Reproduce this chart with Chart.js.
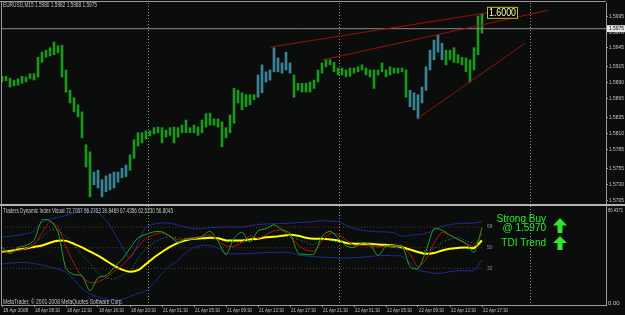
<!DOCTYPE html>
<html>
<head>
<meta charset="utf-8">
<script src="https://cdn.jsdelivr.net/npm/chart.js@4.4.1/dist/chart.umd.min.js"></script>
<style>
  html, body { margin: 0; padding: 0; background: #0a0d0b; }
  #wrap { position: relative; width: 625px; height: 315px; overflow: hidden; background: #0a0d0b; }
  #priceChart { position: absolute; left: 0; top: 0; }
  #tdiChart { position: absolute; left: 0; top: 206px; }
</style>
</head>
<body>
<div id="wrap">
  <canvas id="priceChart" width="625" height="206"></canvas>
  <canvas id="tdiChart" width="625" height="109"></canvas>
</div>
<script>
// EURUSD M15, one sample per 30 minutes (two M15 bars), 18 Apr 04:30 .. 22 Apr 17:45
let priceHigh = [
  1.5900, 1.5900, 1.5897, 1.5894, 1.5896, 1.5900, 1.5899, 1.5904, 1.5904, 1.5930,
  1.5938, 1.5941, 1.5945, 1.5954, 1.5948, 1.5949, 1.5910, 1.5878, 1.5866, 1.5855,
  1.5844, 1.5792, 1.5781, 1.5749, 1.5752, 1.5737, 1.5743, 1.5746, 1.5749, 1.5749,
  1.5755, 1.5760, 1.5776, 1.5800, 1.5811, 1.5811, 1.5814, 1.5814, 1.5819, 1.5820,
  1.5819, 1.5815, 1.5819, 1.5820, 1.5819, 1.5823, 1.5831, 1.5819, 1.5823, 1.5820,
  1.5831, 1.5841, 1.5842, 1.5833, 1.5833, 1.5828, 1.5819, 1.5839, 1.5881, 1.5878,
  1.5874, 1.5871, 1.5871, 1.5871, 1.5902, 1.5918, 1.5907, 1.5910, 1.5945, 1.5929,
  1.5921, 1.5938, 1.5921, 1.5902, 1.5889, 1.5889, 1.5889, 1.5891, 1.5894, 1.5910,
  1.5921, 1.5926, 1.5926, 1.5922, 1.5913, 1.5913, 1.5910, 1.5913, 1.5913, 1.5915,
  1.5918, 1.5913, 1.5910, 1.5910, 1.5910, 1.5921, 1.5910, 1.5915, 1.5913, 1.5913,
  1.5913, 1.5910, 1.5878, 1.5874, 1.5871, 1.5883, 1.5915, 1.5941, 1.5957, 1.5965,
  1.5952, 1.5941, 1.5941, 1.5945, 1.5934, 1.5930, 1.5929, 1.5926, 1.5945, 1.5995,
  1.5999
];
let priceLow = [
  1.5891, 1.5893, 1.5883, 1.5885, 1.5886, 1.5889, 1.5891, 1.5896, 1.5894, 1.5899,
  1.5922, 1.5930, 1.5932, 1.5934, 1.5937, 1.5899, 1.5875, 1.5858, 1.5844, 1.5836,
  1.5803, 1.5757, 1.5710, 1.5729, 1.5724, 1.5710, 1.5718, 1.5721, 1.5724, 1.5733,
  1.5740, 1.5742, 1.5752, 1.5771, 1.5790, 1.5795, 1.5801, 1.5806, 1.5809, 1.5811,
  1.5795, 1.5804, 1.5807, 1.5795, 1.5804, 1.5811, 1.5811, 1.5811, 1.5811, 1.5807,
  1.5811, 1.5820, 1.5823, 1.5823, 1.5820, 1.5789, 1.5803, 1.5811, 1.5826, 1.5858,
  1.5847, 1.5852, 1.5855, 1.5863, 1.5867, 1.5874, 1.5891, 1.5894, 1.5907, 1.5907,
  1.5905, 1.5910, 1.5905, 1.5867, 1.5878, 1.5875, 1.5875, 1.5875, 1.5881, 1.5891,
  1.5905, 1.5915, 1.5918, 1.5907, 1.5902, 1.5902, 1.5899, 1.5900, 1.5905, 1.5907,
  1.5910, 1.5902, 1.5899, 1.5881, 1.5902, 1.5907, 1.5899, 1.5902, 1.5905, 1.5905,
  1.5907, 1.5867, 1.5852, 1.5847, 1.5833, 1.5858, 1.5878, 1.5910, 1.5926, 1.5938,
  1.5926, 1.5918, 1.5926, 1.5922, 1.5921, 1.5918, 1.5907, 1.5891, 1.5910, 1.5934,
  1.5968
];
let lastBar = [1.5980, 1.5982, 1.5968, 1.5975];   // O H L C of the current bar
let lastPrice = 1.5975;
let priceTicks = [1.5995, 1.5970, 1.5945, 1.5915, 1.5890, 1.5865, 1.5835, 1.5810, 1.5785, 1.5755, 1.5730, 1.5705];

// trend lines, [bar, price] anchors
let trendTop = [[134.0, 1.5946], [242.5, 1.6000]];
let trendMid = [[160.5, 1.5926], [273.0, 1.6004]];
let trendLow = [[207.5, 1.5833], [261.5, 1.5952]];
let targetPrice = 1.6000;

let daySeparators = [73.0, 168.5, 264.0];
let timeLabels = ['18 Apr 2008', '18 Apr 08:30', '18 Apr 12:30', '18 Apr 16:30', '18 Apr 20:30',
  '21 Apr 01:30', '21 Apr 05:30', '21 Apr 09:30', '21 Apr 13:30', '21 Apr 17:30', '21 Apr 21:30',
  '22 Apr 01:30', '22 Apr 05:30', '22 Apr 09:30', '22 Apr 13:30', '22 Apr 17:30'];

// Traders Dynamic Index, one sample per hour
let tdiUpper = [59.5, 60.0, 60.9, 62.2, 64.4, 72.3, 75.0, 76.3, 78.1, 80.3, 82.0, 82.5, 80.7, 74.1, 63.5, 51.2,
  41.0, 53.8, 67.9, 70.6, 71.7, 71.4, 69.7, 67.9, 66.6, 66.6, 67.5, 67.9, 68.2, 68.2, 68.2, 69.2, 70.3, 70.7,
  71.0, 71.2, 71.4, 71.9, 72.3, 72.8, 73.6, 73.2, 72.8, 69.7, 66.6, 65.3, 64.4, 63.9, 63.8, 63.1, 60.0, 60.9,
  61.5, 62.6, 65.3, 68.8, 70.1, 71.2, 71.4, 71.7, 72.7];
let tdiLower = [35.9, 36.6, 37.0, 37.0, 36.2, 34.8, 33.1, 31.3, 28.7, 22.1, 14.1, 9.7, 7.1, 5.3, 4.0, 4.9,
  7.5, 10.1, 12.3, 19.4, 27.3, 34.4, 38.8, 45.9, 50.3, 52.0, 52.0, 49.8, 45.0, 44.7, 44.7, 45.0, 45.4, 45.7,
  45.9, 46.1, 45.9, 43.7, 42.8, 42.3, 41.7, 41.5, 41.0, 41.0, 41.3, 41.7, 42.3, 43.0, 43.2, 43.0, 42.6, 37.0,
  30.4, 29.1, 27.8, 27.8, 29.1, 30.0, 30.0, 30.0, 39.8];
let tdiBase = [46.3, 47.2, 48.5, 49.4, 50.7, 52.0, 54.4, 56.0, 56.0, 53.4, 50.3, 46.7, 43.2, 38.8, 34.4, 30.9,
  29.1, 30.4, 35.7, 41.5, 46.3, 50.7, 54.2, 56.4, 57.8, 58.2, 58.7, 58.2, 56.4, 56.4, 56.4, 57.3, 57.9, 59.1,
  59.5, 60.4, 61.3, 60.4, 58.7, 57.8, 57.8, 57.3, 56.4, 54.2, 53.5, 53.5, 53.5, 52.9, 52.5, 51.9, 50.5, 48.5,
  46.3, 44.7, 45.4, 47.6, 49.1, 49.8, 50.3, 49.8, 56.3];
let tdiSignal = [46.1, 46.1, 47.6, 49.4, 52.5, 63.1, 72.6, 67.9, 50.7, 36.2, 24.7, 19.4, 20.3, 23.8, 29.5, 34.4,
  41.9, 50.7, 58.2, 61.3, 63.1, 60.0, 56.9, 57.3, 57.9, 59.5, 61.0, 56.4, 51.6, 51.2, 54.7, 60.4, 58.2, 61.3,
  64.8, 65.3, 60.0, 52.5, 48.1, 47.2, 55.6, 62.6, 61.3, 56.9, 52.0, 52.0, 51.6, 50.7, 51.4, 51.9, 50.5, 44.5,
  33.1, 40.1, 53.8, 63.5, 60.9, 57.3, 53.8, 51.2, 62.5];
let tdiPrice = [50.3, 45.0, 50.3, 52.0, 56.4, 74.1, 73.6, 63.9, 31.8, 26.5, 25.6, 12.3, 23.8, 25.6, 32.6, 39.7,
  49.4, 58.7, 61.7, 63.9, 63.9, 60.0, 54.7, 57.9, 58.7, 60.0, 64.4, 55.6, 44.1, 58.2, 63.5, 54.9, 64.8, 66.6,
  70.1, 65.7, 62.6, 45.4, 44.1, 44.5, 60.0, 64.4, 58.7, 51.6, 50.3, 54.2, 52.9, 43.2, 51.2, 50.3, 52.0, 33.5,
  31.8, 47.2, 66.6, 65.3, 60.9, 57.3, 53.8, 45.9, 67.4];
let tdiSlow = [47.6, 47.6, 48.1, 50.3, 53.8, 59.1, 65.3, 65.3, 59.5, 52.0, 43.7, 36.2, 28.2, 23.8, 22.7, 25.6,
  29.5, 40.6, 49.0, 54.7, 58.2, 59.4, 58.7, 57.9, 58.7, 59.1, 59.4, 57.3, 55.1, 54.9, 54.9, 56.0, 57.3, 59.1,
  60.4, 60.9, 59.1, 57.3, 54.7, 52.5, 57.3, 56.4, 55.1, 54.9, 54.2, 53.4, 52.2, 51.6, 51.0, 50.3, 49.0, 47.6,
  46.3, 47.6, 49.4, 54.7, 57.3, 59.1, 56.0, 54.2, 56.8];
let tdiLast = [72.7057, 56.2763, 39.8469, 67.4356, 62.5230, 56.8045];
let tdiLevels = [68, 50, 32];
let tdiMax = 86.4371;
let signalLines = ['Strong Buy', '@ 1.5970', 'TDI Trend'];

// layout constants
const PRICE_STEP = 2;   // M15 bars per price sample
const TDI_STEP = 4;     // M15 bars per TDI sample
const LABEL_STEP = 16;  // M15 bars between time labels
const X_MIN = -0.5, X_MAX = 302;   // 2 px per M15 bar
const BG = '#0a0d0b';
const FRAME = '#9a9a9a';
const TXT = '#c4c4c4';
const SMALL = "'Liberation Sans', Arial, sans-serif";
const blueRuns = [[23, 31], [64, 72], [102, 110]];

let barColors = priceHigh.map((h, i) =>
  blueRuns.some(r => i >= r[0] && i <= r[1]) ? '#3a8294' : '#1c981c');

let toPts = pairs => pairs.map(p => ({ x: p[0], y: p[1] }));
let tdiPts = arr => arr.map((v, i) => ({ x: i * TDI_STEP, y: v }));
let lastIdx = (priceHigh.length - 1) * PRICE_STEP + 1;

let drawSeparators = chart => {
  let { ctx, chartArea: a, scales: { x } } = chart;
  ctx.save();
  ctx.strokeStyle = '#8a8a8a';
  ctx.lineWidth = 1;
  ctx.setLineDash([1, 2]);
  daySeparators.forEach(b => {
    let px = Math.round(x.getPixelForValue(b)) + 0.5;
    ctx.beginPath();
    ctx.moveTo(px, a.top);
    ctx.lineTo(px, a.bottom);
    ctx.stroke();
  });
  ctx.restore();
};

let pricePanel = {
  id: 'pricePanel',
  beforeDraw(chart) {
    let ctx = chart.ctx;
    ctx.save();
    ctx.fillStyle = BG;
    ctx.fillRect(0, 0, chart.width, chart.height);
    ctx.restore();
  },
  beforeDatasetsDraw(chart) { drawSeparators(chart); },
  afterDraw(chart) {
    let { ctx, chartArea: a, scales: { x, y } } = chart;
    ctx.save();
    ctx.strokeStyle = FRAME;
    ctx.lineWidth = 1;
    ctx.beginPath();
    ctx.moveTo(0, 1.5); ctx.lineTo(a.right, 1.5);
    ctx.moveTo(1.5, 1); ctx.lineTo(1.5, chart.height);
    ctx.stroke();
    ctx.fillStyle = '#b4b4b4';
    ctx.fillRect(0, chart.height - 2, chart.width, 2);

    ctx.fillStyle = TXT;
    ctx.font = '7px ' + SMALL;
    ctx.textAlign = 'left';
    ctx.textBaseline = 'middle';
    ctx.fillText('EURUSD,M15 ' + lastBar.map(v => v.toFixed(4)).join(' '), 3, 5.5, 94);

    // price scale labels, placed by the scale
    ctx.font = '6px ' + SMALL;
    y.ticks.forEach(t => {
      ctx.fillText(Number(t.value).toFixed(4), a.right + 3, y.getPixelForValue(t.value), 15);
    });

    // target label at the end of the upper trend line
    let tx = x.getPixelForValue(trendTop[1][0]);
    let ty = y.getPixelForValue(targetPrice);
    ctx.fillStyle = '#000000';
    ctx.fillRect(tx, ty - 6, 31, 12);
    ctx.strokeStyle = '#c2c200';
    ctx.strokeRect(tx + 0.5, ty - 5.5, 30, 11);
    ctx.fillStyle = '#ffffb0';
    ctx.font = '10px Liberation Sans, Arial, sans-serif';
    ctx.fillText(targetPrice.toFixed(4), tx + 2, ty + 0.5, 27);

    // current price marker
    let ly = y.getPixelForValue(lastPrice);
    ctx.fillStyle = '#e6e6e6';
    ctx.fillRect(a.right + 1, ly - 3.5, 18, 7);
    ctx.fillStyle = '#000000';
    ctx.font = '6px ' + SMALL;
    ctx.fillText(lastPrice.toFixed(4), a.right + 3, ly, 15);
    ctx.restore();
  }
};

let drawArrow = (ctx, cx, top, bottom) => {
  let head = (bottom - top) * 0.5;
  ctx.beginPath();
  ctx.moveTo(cx, top);
  ctx.lineTo(cx + 7, top + head);
  ctx.lineTo(cx + 2.5, top + head);
  ctx.lineTo(cx + 2.5, bottom);
  ctx.lineTo(cx - 2.5, bottom);
  ctx.lineTo(cx - 2.5, top + head);
  ctx.lineTo(cx - 7, top + head);
  ctx.closePath();
  ctx.fill();
};

let tdiPanel = {
  id: 'tdiPanel',
  beforeDraw(chart) {
    let ctx = chart.ctx;
    ctx.save();
    ctx.fillStyle = BG;
    ctx.fillRect(0, 0, chart.width, chart.height);
    ctx.restore();
  },
  beforeDatasetsDraw(chart) { drawSeparators(chart); },
  afterDraw(chart) {
    let { ctx, chartArea: a, scales: { x, y } } = chart;
    ctx.save();
    ctx.strokeStyle = FRAME;
    ctx.lineWidth = 1;
    ctx.beginPath();
    ctx.moveTo(1.5, 0); ctx.lineTo(1.5, a.bottom);
    ctx.stroke();

    ctx.fillStyle = TXT;
    ctx.font = '7px ' + SMALL;
    ctx.textAlign = 'left';
    ctx.textBaseline = 'middle';
    ctx.fillText('Traders Dynamic Index Visual ' + tdiLast.map(v => v.toFixed(4)).join(' '), 3, 5, 170);
    ctx.fillText('MetaTrader, \u00a9 2001-2008 MetaQuotes Software Corp.', 3, 96, 120);
    ctx.font = '6px ' + SMALL;
    ctx.fillText(tdiMax.toFixed(4), a.right + 2, 4, 15);
    ctx.fillText('0.00', a.right + 2, a.bottom - 2, 15);

    // time labels, placed by the x scale
    x.ticks.forEach((t, i) => {
      ctx.fillText(timeLabels[i], x.getPixelForValue(t.value) + 1, a.bottom + 5.5, 25);
    });

    ctx.fillStyle = '#8c8c8c';
    ctx.font = '5px ' + SMALL;
    tdiLevels.forEach(v => ctx.fillText(String(v), x.getPixelForValue(lastIdx + 1.5), y.getPixelForValue(v)));

    // signal text and arrows
    ctx.fillStyle = '#2ee82e';
    ctx.font = '10px Liberation Sans, Arial, sans-serif';
    ctx.textAlign = 'right';
    ctx.textBaseline = 'alphabetic';
    let rx = x.getPixelForValue(272);
    ctx.fillText(signalLines[0], rx, y.getPixelForValue(72.5));
    ctx.fillText(signalLines[1], rx, y.getPixelForValue(64.2));
    ctx.fillText(signalLines[2], rx, y.getPixelForValue(51.5));
    let ax = x.getPixelForValue(279);
    drawArrow(ctx, ax, y.getPixelForValue(76.0), y.getPixelForValue(62.9));
    drawArrow(ctx, ax, y.getPixelForValue(60.2), y.getPixelForValue(48.0));
    ctx.restore();
  }
};

let lineSet = (data, color, extra) => Object.assign({
  type: 'line', data: data, borderColor: color, borderWidth: 1,
  pointRadius: 0, tension: 0.25, fill: false
}, extra || {});

let priceChart = new Chart(document.getElementById('priceChart').getContext('2d'), {
  type: 'bar',
  data: {
    datasets: [
      lineSet(toPts(trendTop), '#9a1010', { tension: 0 }),
      lineSet(toPts(trendMid), '#9a1010', { tension: 0 }),
      lineSet(toPts(trendLow), '#9a1010', { tension: 0 }),
      lineSet([{ x: X_MIN, y: lastPrice }, { x: X_MAX, y: lastPrice }], '#8a8a8a', { tension: 0 }),
      {
        type: 'bar',
        data: priceHigh.map((h, i) => ({ x: i * PRICE_STEP, y: [priceLow[i], h] })),
        backgroundColor: barColors,
        borderWidth: 0,
        barThickness: 2
      }
    ]
  },
  options: {
    responsive: false,
    animation: false,
    devicePixelRatio: 1,
    events: [],
    layout: { padding: { left: 1, top: 3, bottom: 3, right: 0 } },
    plugins: { legend: { display: false }, tooltip: { enabled: false } },
    scales: {
      x: { type: 'linear', min: X_MIN, max: X_MAX, offset: false, display: false },
      y: {
        position: 'right',
        min: 1.57003,
        max: 1.60155,
        afterFit: s => { s.width = 19; },
        afterBuildTicks: s => { s.ticks = priceTicks.map(v => ({ value: v })); },
        ticks: { display: false },
        grid: { drawOnChartArea: false, tickLength: 2, color: FRAME },
        border: { color: FRAME }
      }
    }
  },
  plugins: [pricePanel]
});

let tdiChart = new Chart(document.getElementById('tdiChart').getContext('2d'), {
  type: 'line',
  data: {
    datasets: [
      lineSet(tdiPts(tdiPrice), '#1fa21f'),
      lineSet(tdiPts(tdiSignal), '#b81212'),
      lineSet(tdiPts(tdiBase), '#ffff00', { borderWidth: 2 }),
      lineSet(tdiPts(tdiSlow), '#2b8c9a', { borderDash: [1, 2] }),
      lineSet(tdiPts(tdiUpper), '#1e2a92'),
      lineSet(tdiPts(tdiLower), '#1e2a92'),
      ...tdiLevels.map(v => lineSet([{ x: X_MIN, y: v }, { x: lastIdx, y: v }], '#5e3434', { borderDash: [1, 2], tension: 0 }))
    ]
  },
  options: {
    responsive: false,
    animation: false,
    devicePixelRatio: 1,
    events: [],
    layout: { padding: { left: 1, top: 0, bottom: 0, right: 0 } },
    plugins: { legend: { display: false }, tooltip: { enabled: false } },
    scales: {
      x: {
        type: 'linear', min: X_MIN, max: X_MAX, offset: false,
        afterFit: s => { s.height = 10; },
        afterBuildTicks: s => { s.ticks = timeLabels.map((t, i) => ({ value: i * LABEL_STEP })); },
        ticks: { display: false },
        grid: { drawOnChartArea: false, tickLength: 2, color: FRAME },
        border: { color: FRAME }
      },
      y: {
        position: 'right',
        min: 0,
        max: tdiMax,
        afterFit: s => { s.width = 19; },
        ticks: { display: false },
        grid: { drawOnChartArea: false, drawTicks: false },
        border: { color: FRAME }
      }
    }
  },
  plugins: [tdiPanel]
});
</script>
</body>
</html>
